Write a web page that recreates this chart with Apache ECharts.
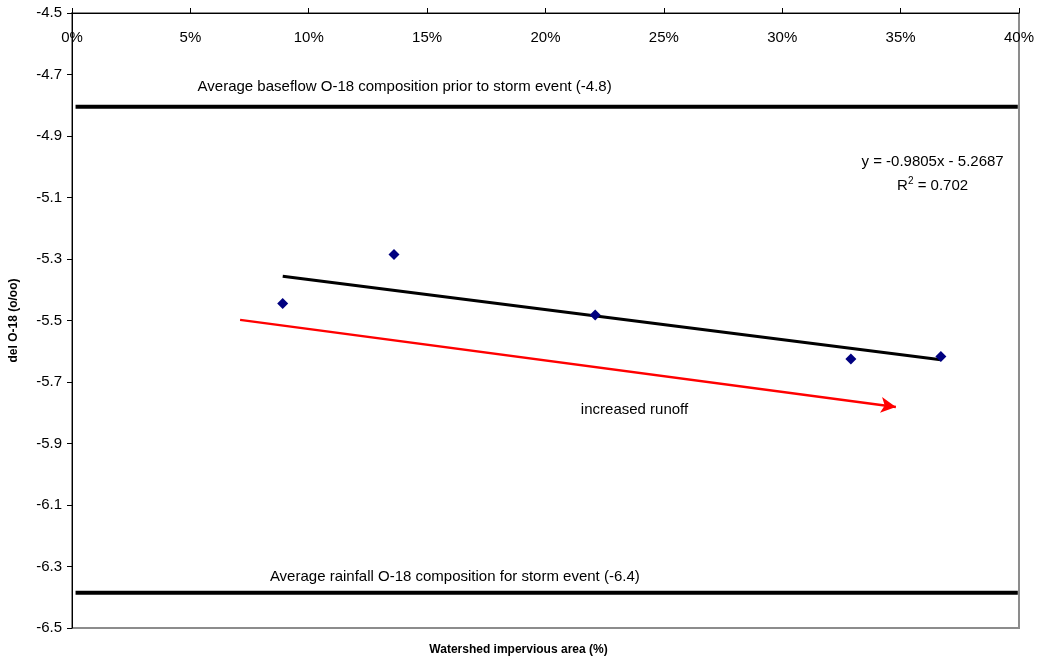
<!DOCTYPE html>
<html>
<head>
	<meta charset="utf-8">
	<title>del O-18 vs impervious area</title>
	<script src="https://cdn.jsdelivr.net/npm/echarts@6/dist/echarts.min.js"></script>
	<style>body{margin:0;background:#fff}</style>
</head>
<body>
	<div id="main" style="width: 1037px;height: 660px"></div>
	<script type="text/javascript">
		// measured points: [impervious %, del O-18]
		var samples = [[8.9, -5.445], [13.6, -5.285], [22.1, -5.482], [32.9, -5.625], [36.7, -5.617]];
		// linear trend y = -0.9805x - 5.2687 (x as fraction), drawn over the data range
		var trendLine = [[8.9, -5.356], [36.7, -5.628]];
		var baseflowLevel = -4.805;
		var rainfallLevel = -6.385;
		var runoffArrow = [[7.1, -5.498], [34.8, -5.781]];

		var font = '"Liberation Sans", Arial, sans-serif';
		var myChart = echarts.init(document.getElementById('main'));

		// text placed on data coordinates
		var notes = [
			{value: [14.05, -4.741], text: 'Average baseflow O-18 composition prior to storm event (-4.8)'},
			{value: [16.17, -6.334], text: 'Average rainfall O-18 composition for storm event (-6.4)'},
			{value: [23.76, -5.791], text: 'increased runoff'},
			{value: [36.35, -4.985], text: 'y = -0.9805x - 5.2687'},
			{value: [36.35, -5.062], text: 'R{sup|2} = 0.702'}
		];

		var option = {
			backgroundColor: '#ffffff',
			animation: false,
			textStyle: {fontFamily: font},
			grid: {
				left: 69, top: 13, right: 17, bottom: 32,
				show: true,
				borderColor: '#8c8c8c',
				borderWidth: 2,
				backgroundColor: 'transparent'
			},
			xAxis: {
				type: 'value',
				position: 'top',
				min: 0, max: 40, interval: 5,
				axisLine: {show: true, onZero: false, lineStyle: {color: '#000', width: 1}},
				axisTick: {show: true, inside: false, length: 5, lineStyle: {color: '#000'}},
				axisLabel: {
					inside: true, margin: 17,
					color: '#000', fontSize: 15, fontFamily: font,
					formatter: function (v) { return v + '%'; }
				},
				splitLine: {show: false}
			},
			yAxis: {
				type: 'value',
				min: -6.5, max: -4.5, interval: 0.2,
				name: 'del O-18 (o/oo)',
				nameLocation: 'middle',
				nameRotate: 90,
				nameGap: 52,
				nameTextStyle: {color: '#000', fontSize: 12, fontWeight: 'bold', fontFamily: font},
				axisLine: {show: true, onZero: false, lineStyle: {color: '#000', width: 1}},
				axisTick: {show: true, length: 5, lineStyle: {color: '#000'}},
				axisLabel: {
					margin: 10, color: '#000', fontSize: 15, fontFamily: font,
					formatter: function (v) { return v.toFixed(1); }
				},
				splitLine: {show: false}
			},
			graphic: [{
				type: 'text',
				left: 'center',
				top: 644,
				style: {
					text: 'Watershed impervious area (%)',
					fill: '#000',
					font: 'bold 12px ' + font
				}
			}],
			series: [
				{
					name: 'baseflow',
					type: 'line',
					symbol: 'none',
					data: [[0.15, baseflowLevel], [39.95, baseflowLevel]],
					lineStyle: {color: '#000', width: 4},
					z: 2
				},
				{
					name: 'rainfall',
					type: 'line',
					symbol: 'none',
					data: [[0.15, rainfallLevel], [39.95, rainfallLevel]],
					lineStyle: {color: '#000', width: 4},
					z: 2
				},
				{
					name: 'trend',
					type: 'line',
					symbol: 'none',
					data: trendLine,
					lineStyle: {color: '#000', width: 3},
					z: 3
				},
				{
					name: 'runoff',
					type: 'line',
					symbol: 'none',
					data: [],
					markLine: {
						silent: true,
						symbol: ['none', 'arrow'],
						symbolSize: [12, 15],
						label: {show: false},
						lineStyle: {color: '#ff0000', width: 2.5, type: 'solid'},
						data: [[{coord: runoffArrow[0]}, {coord: runoffArrow[1]}]]
					},
					z: 3
				},
				{
					name: 'samples',
					type: 'scatter',
					symbol: 'diamond',
					symbolSize: 11,
					data: samples,
					itemStyle: {color: '#000080', opacity: 1},
					z: 5
				},
				{
					name: 'notes',
					type: 'scatter',
					symbolSize: 0,
					silent: true,
					itemStyle: {opacity: 1},
					data: notes.map(function (n) {
						return {value: n.value, label: {formatter: n.text}};
					}),
					label: {
						show: true,
						position: 'inside',
						color: '#000',
						fontSize: 15,
						fontFamily: font,
						rich: {
							sup: {fontSize: 10, verticalAlign: 'top', padding: [0, 0, 9, 0], fontFamily: font, color: '#000'}
						}
					},
					z: 6
				}
			]
		};

		myChart.setOption(option);
	</script>
</body>
</html>
